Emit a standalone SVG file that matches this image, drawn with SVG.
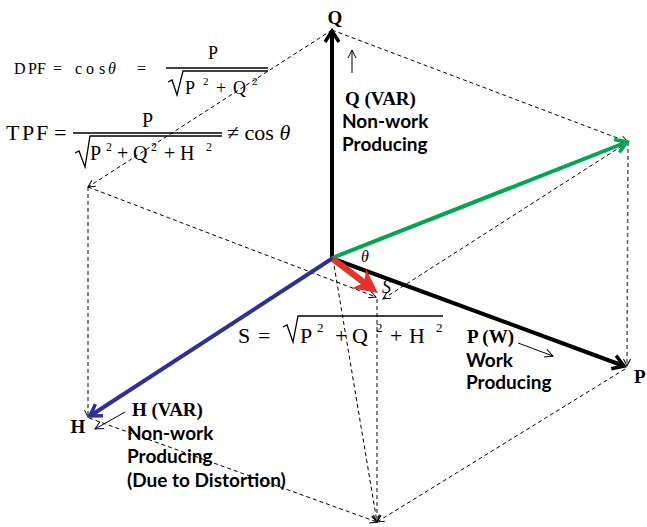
<svg xmlns="http://www.w3.org/2000/svg" width="647" height="527" viewBox="0 0 647 527">
<style>
.serif{font-family:"Liberation Serif","Times New Roman",serif;fill:#000}
.sb{font-family:"Liberation Serif","Times New Roman",serif;font-weight:bold;font-size:19px;fill:#000}
.sans{font-family:Lato,"Liberation Sans",Arial,sans-serif;font-weight:bold;font-size:19px;fill:#000}
.dash{fill:none;stroke:#000;stroke-width:1;stroke-dasharray:4 3;marker-end:url(#da)}
.vdash{fill:none;stroke:#666;stroke-width:1.6;stroke-dasharray:4 3;marker-end:url(#da)}
.thin{fill:none;stroke:#000;stroke-width:1;marker-end:url(#ta)}
.rule{stroke:#000;stroke-width:1.3;fill:none}
</style>
<defs>
<marker id="da" markerUnits="userSpaceOnUse" viewBox="0 0 10 10" markerWidth="10" markerHeight="10" refX="8" refY="5" orient="auto" overflow="visible"><path d="M1,1.5 L8,5 L1,8.5" fill="none" stroke="#000" stroke-width="1"/></marker>
<marker id="ta" markerUnits="userSpaceOnUse" viewBox="0 0 10 10" markerWidth="10" markerHeight="10" refX="9" refY="5" orient="auto" overflow="visible"><path d="M1,1 L9,5 L1,9" fill="none" stroke="#000" stroke-width="1"/></marker>
<marker id="chK" markerUnits="userSpaceOnUse" viewBox="0 0 16 16" markerWidth="16" markerHeight="16" refX="13" refY="7" orient="auto" overflow="visible"><path d="M2,0 L13,7 L2,14" fill="none" stroke="#000" stroke-width="3.5" stroke-linejoin="miter"/></marker>
<marker id="chG" markerUnits="userSpaceOnUse" viewBox="0 0 16 16" markerWidth="16" markerHeight="16" refX="13" refY="7" orient="auto" overflow="visible"><path d="M2,0 L13,7 L2,14" fill="none" stroke="#00a651" stroke-width="3.5"/></marker>
<marker id="chB" markerUnits="userSpaceOnUse" viewBox="0 0 16 16" markerWidth="16" markerHeight="16" refX="13" refY="7" orient="auto" overflow="visible"><path d="M2,0 L13,7 L2,14" fill="none" stroke="#2e3192" stroke-width="3.5"/></marker>
<marker id="chR" markerUnits="userSpaceOnUse" viewBox="0 0 24 24" markerWidth="24" markerHeight="24" refX="9" refY="12" orient="auto" overflow="visible"><path d="M0,0 L24,12 L0,24 L7,12 z" fill="#e8312a"/></marker>
</defs>

<g id="connectors">
  <path class="dash" d="M332,30 L88,187"/>
  <path class="dash" d="M332,30 L628,142"/>
  <path class="vdash" d="M88,187 L88,417"/>
  <path class="vdash" d="M628,142 L627,366"/>
  <path class="dash" d="M88,187 L376,297"/>
  <path class="dash" d="M628,142 L383,299"/>
  <path class="dash" d="M333,259 L377,522"/>
  <path class="vdash" d="M377,299 L377,522"/>
  <path class="dash" d="M89,418 L377,522"/>
  <path class="dash" d="M625,369 L377,522"/>
  <line x1="332" y1="260" x2="332" y2="31" stroke="#000" stroke-width="4" marker-end="url(#chK)"/>
  <line x1="331" y1="258" x2="624" y2="366" stroke="#000" stroke-width="4" marker-end="url(#chK)"/>
  <line x1="332" y1="258" x2="627" y2="142" stroke="#00a651" stroke-width="4" marker-end="url(#chG)"/>
  <line x1="333" y1="258" x2="90" y2="416" stroke="#2e3192" stroke-width="4" marker-end="url(#chB)"/>
  <line x1="333" y1="259" x2="366" y2="284" stroke="#e8312a" stroke-width="6.5" marker-end="url(#chR)"/>
  <path class="thin" d="M352,73 L352,50"/>
  <path class="thin" d="M518,343 L553,356"/>
  <path class="thin" d="M125,412 L95,429"/>
</g>

<g id="formula-dpf" class="serif" font-size="16">
  <text x="14 28 37 53 75 86 99" y="74">DPF=cos<tspan font-style="italic" x="108">θ</tspan><tspan x="137">=</tspan></text>
  <text x="208" y="59" font-size="18">P</text>
  <line class="rule" x1="166" y1="68" x2="268" y2="68"/>
  <path class="rule" d="M168,82 L172,80 L177,95 L183,71 L268,71"/>
  <text x="185" y="94" font-size="18">P</text>
  <text x="203" y="85" font-size="11">2</text>
  <text x="216" y="94" font-size="18">+</text>
  <text x="233" y="94" font-size="18">Q</text>
  <text x="252" y="85" font-size="11">2</text>
</g>

<g id="formula-tpf" class="serif" font-size="22">
  <text x="6 22 36 54" y="140">TPF=</text>
  <text x="142" y="127" font-size="20">P</text>
  <line class="rule" x1="73" y1="133" x2="222" y2="133"/>
  <path class="rule" d="M75,153 L79,151 L85,167 L90,136 L222,136"/>
  <text x="90" y="160" font-size="20">P</text>
  <text x="106" y="151" font-size="12">2</text>
  <text x="117" y="160" font-size="20">+</text>
  <text x="133" y="160" font-size="20">Q</text>
  <text x="151" y="151" font-size="12">2</text>
  <text x="164" y="160" font-size="20">+</text>
  <text x="180" y="160" font-size="20">H</text>
  <text x="206" y="151" font-size="12">2</text>
  <text x="227" y="140">≠ cos <tspan font-style="italic">θ</tspan></text>
</g>

<g id="formula-s" class="serif" font-size="22">
  <text x="238" y="343">S</text>
  <text x="258" y="343">=</text>
  <path class="rule" d="M283,327 L287,325 L293,342 L298,316 L443,316"/>
  <text x="300" y="343">P</text>
  <text x="317" y="332" font-size="13">2</text>
  <text x="335" y="343">+</text>
  <text x="352" y="343">Q</text>
  <text x="376" y="332" font-size="13">2</text>
  <text x="390" y="343">+</text>
  <text x="409" y="343">H</text>
  <text x="436" y="332" font-size="13">2</text>
</g>

<g id="node-q">
  <text class="sb" x="335" y="24" text-anchor="middle">Q</text>
  <text class="sb" x="345" y="105">Q (VAR)</text>
  <text class="sans" x="342" y="128">Non-work</text>
  <text class="sans" x="342" y="151">Producing</text>
</g>

<g id="node-p">
  <text class="sb" x="634" y="383">P</text>
  <text class="sb" x="467" y="343">P (W)</text>
  <text class="sans" x="466" y="367">Work</text>
  <text class="sans" x="466" y="389">Producing</text>
</g>

<g id="node-h">
  <text class="sb" x="78" y="433" text-anchor="middle">H</text>
  <text class="sb" x="132" y="416">H (VAR)</text>
  <text class="sans" x="127" y="440">Non-work</text>
  <text class="sans" x="127" y="463">Producing</text>
  <text class="sans" x="127" y="487">(Due to Distortion)</text>
</g>

<g id="node-s">
  <text class="serif" x="382" y="293" font-size="18" font-style="italic">S</text>
</g>

<g id="angle-theta">
  <text class="serif" x="361" y="262" font-size="16" font-style="italic">θ</text>
</g>
</svg>
